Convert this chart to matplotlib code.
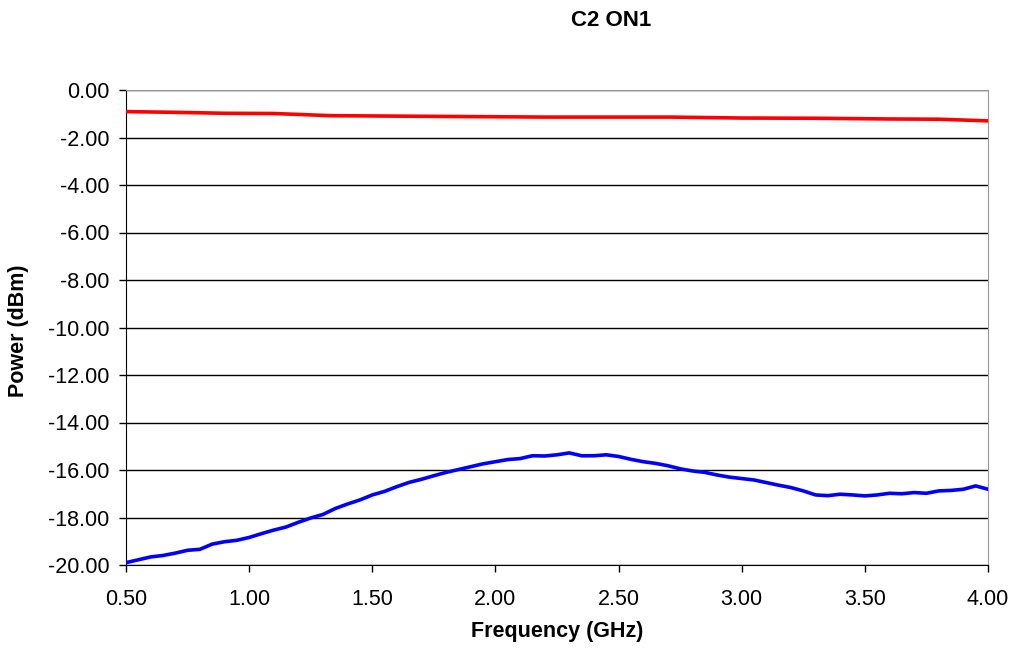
import matplotlib.pyplot as plt
from matplotlib.ticker import FuncFormatter, MultipleLocator

plt.rcParams['font.family'] = ['Liberation Sans', 'DejaVu Sans']

# values
freq_blue = [0.50, 0.55, 0.60, 0.65, 0.70, 0.75, 0.80, 0.85, 0.90, 0.95,
             1.00, 1.05, 1.10, 1.15, 1.20, 1.25, 1.30, 1.35, 1.40, 1.45,
             1.50, 1.55, 1.60, 1.65, 1.70, 1.75, 1.80, 1.85, 1.90, 1.95,
             2.00, 2.05, 2.10, 2.15, 2.20, 2.25, 2.30, 2.35, 2.40, 2.45,
             2.50, 2.55, 2.60, 2.65, 2.70, 2.75, 2.80, 2.85, 2.90, 2.95,
             3.00, 3.05, 3.10, 3.15, 3.20, 3.25, 3.30, 3.35, 3.40, 3.45,
             3.50, 3.55, 3.60, 3.65, 3.70, 3.75, 3.80, 3.85, 3.90, 3.95, 4.00]
power_blue = [-19.90, -19.78, -19.66, -19.60, -19.50, -19.38, -19.34, -19.12, -19.02, -18.96,
              -18.84, -18.68, -18.53, -18.40, -18.20, -18.02, -17.87, -17.62, -17.43, -17.26,
              -17.05, -16.90, -16.70, -16.52, -16.39, -16.24, -16.10, -15.98, -15.86, -15.74,
              -15.65, -15.56, -15.52, -15.40, -15.41, -15.36, -15.28, -15.40, -15.40, -15.36,
              -15.43, -15.55, -15.65, -15.72, -15.82, -15.95, -16.04, -16.10, -16.21, -16.30,
              -16.36, -16.42, -16.53, -16.64, -16.74, -16.88, -17.05, -17.08, -17.02, -17.05,
              -17.09, -17.05, -16.98, -17.00, -16.95, -16.98, -16.88, -16.86, -16.81, -16.67, -16.81]

freq_red = [0.50, 0.70, 0.90, 1.10, 1.33, 1.60, 1.90, 2.20, 2.50, 2.71,
            3.00, 3.30, 3.60, 3.80, 4.00]
power_red = [-0.91, -0.94, -0.98, -0.99, -1.08, -1.10, -1.12, -1.14, -1.14, -1.14,
             -1.18, -1.19, -1.22, -1.23, -1.30]

x_label = 'Frequency (GHz)'
y_label = 'Power (dBm)'
title = 'C2 ON1'

W, H = 1016, 649
fig = plt.figure(figsize=(W / 100, H / 100), dpi=100)
ax = fig.add_axes([126 / W, 1 - 565 / H, 862 / W, 475 / H])

ax.plot(freq_red, power_red, color='#ff0000', lw=2.6, zorder=3)
ax.plot(freq_blue, power_blue, color='#0000ff', lw=2.6, zorder=3)

ax.set_xlim(0.5, 4.0)
ax.set_ylim(-20, 0)
ax.xaxis.set_major_locator(MultipleLocator(0.5))
ax.yaxis.set_major_locator(MultipleLocator(2))
fmt = FuncFormatter(lambda v, p: '%.2f' % v)
ax.xaxis.set_major_formatter(fmt)
ax.yaxis.set_major_formatter(fmt)
ax.tick_params(direction='out', length=5, width=1, color='black', labelsize=15.5)
ax.tick_params(axis='y', pad=7)
ax.tick_params(axis='x', pad=12)

ax.grid(axis='y', color='black', lw=1)
ax.set_axisbelow(True)
for side in ['left', 'bottom']:
    ax.spines[side].set_color('black')
for side in ['top', 'right']:
    ax.spines[side].set_color('#999999')

fig.text(557 / W, 1 - 632 / H, x_label, ha='center', va='center',
         fontsize=15.5, fontweight='bold')
fig.text(19 / W, 1 - 331 / H, y_label, ha='center', va='center', rotation=90,
         fontsize=15.5, fontweight='bold')
fig.text(611 / W, 1 - 20 / H, title, ha='center', va='center',
         fontsize=16, fontweight='bold')

fig.savefig('out.png', dpi=100)
